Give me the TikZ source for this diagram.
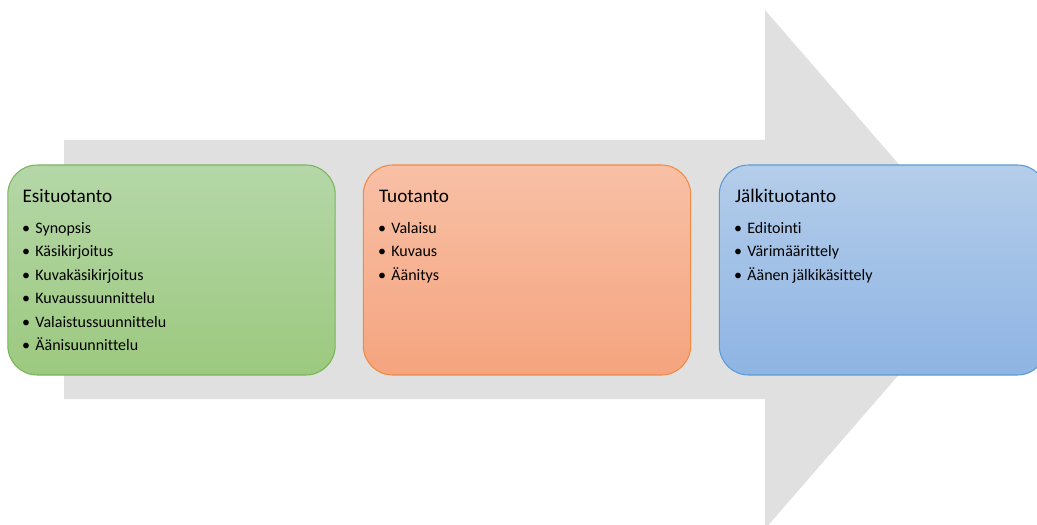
\documentclass[tikz,border=0pt]{standalone}
\usepackage{fontspec}
\setmainfont{Carlito}[Ligatures=NoCommon]
\usetikzlibrary{calc}

\definecolor{arrowgray}{HTML}{E0E0E0}
\definecolor{greentop}{HTML}{B5D7A8}
\definecolor{greenbot}{HTML}{9CC97F}
\definecolor{greenedge}{HTML}{7AB55C}
\definecolor{orangetop}{HTML}{F8C0A6}
\definecolor{orangebot}{HTML}{F5A47E}
\definecolor{orangeedge}{HTML}{F08A45}
\definecolor{bluetop}{HTML}{B4CDEA}
\definecolor{bluebot}{HTML}{8EB4E3}
\definecolor{blueedge}{HTML}{5B9BD5}

\tikzset{
  phase/.style={rectangle, rounded corners=22pt, line width=0.8pt,
    minimum width=245.5pt, minimum height=157.5pt, inner sep=0pt},
  greenbox/.style={phase, draw=greenedge, top color=greentop, bottom color=greenbot},
  orangebox/.style={phase, draw=orangeedge, top color=orangetop, bottom color=orangebot},
  bluebox/.style={phase, draw=blueedge, top color=bluetop, bottom color=bluebot},
  title/.style={anchor=base west, inner sep=0pt, font=\fontsize{14.4}{16}\selectfont},
  item/.style={anchor=base west, inner sep=0pt, font=\fontsize{12}{14}\selectfont},
}

\begin{document}
\begin{tikzpicture}[x=0.75pt,y=-0.75pt]
\useasboundingbox (0,0) rectangle (1037,524);
\clip (0,0) rectangle (1037,524);

% broad grey arrow behind the phases
\fill[arrowgray] (64,140) -- (765,140) -- (765,10) -- (990,269.5)
  -- (765,529) -- (765,399) -- (64,399) -- cycle;

% phase boxes
\node[greenbox]  (pre)  at (171.5,270) {};
\node[orangebox] (prod) at (527,270) {};
\node[bluebox]   (post) at (883,270) {};

% titles
\node[title] (pre-t)  at ($(pre.north west)+(15,38)$)  {Esituotanto};
\node[title] (prod-t) at ($(prod.north west)+(16,38)$) {Tuotanto};
\node[title] (post-t) at ($(post.north west)+(16,38)$) {Jälkituotanto};

% bullet lists
\foreach \t [count=\i] in {Synopsis, Käsikirjoitus, Kuvakäsikirjoitus,
    Kuvaussuunnittelu, Valaistussuunnittelu, Äänisuunnittelu}
  \node[item] (pre-\i) at ($(pre.north west)+(14.5,69+23.4*\i-23.4)$) {•\hspace{4pt}\t};
\foreach \t [count=\i] in {Valaisu, Kuvaus, Äänitys}
  \node[item] (prod-\i) at ($(prod.north west)+(15,69+23.4*\i-23.4)$) {•\hspace{4pt}\t};
\foreach \t [count=\i] in {Editointi, Värimäärittely, Äänen jälkikäsittely}
  \node[item] (post-\i) at ($(post.north west)+(15,69+23.4*\i-23.4)$) {•\hspace{4pt}\t};
\end{tikzpicture}
\end{document}
